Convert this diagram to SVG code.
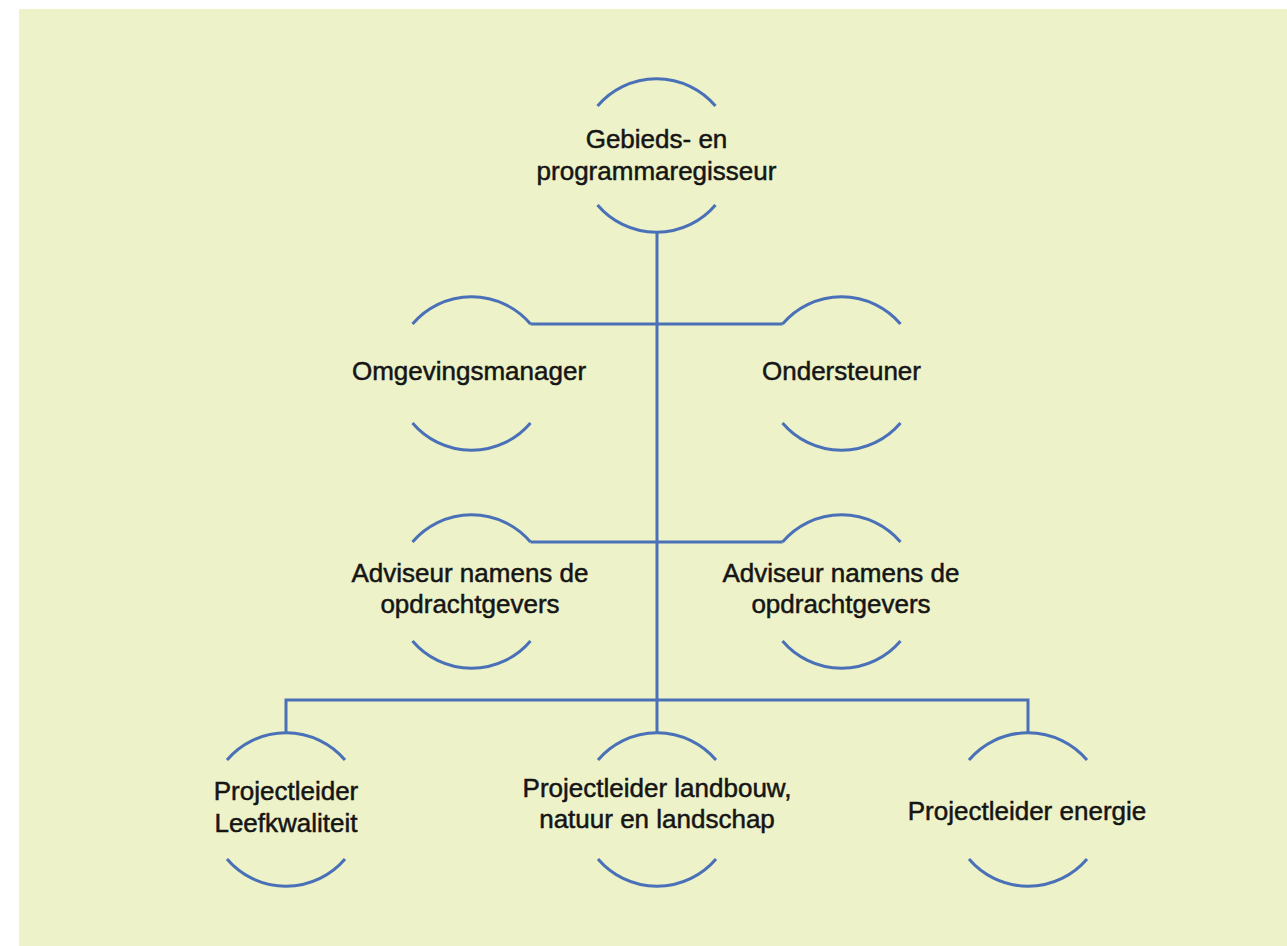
<svg xmlns="http://www.w3.org/2000/svg" width="1287" height="946" viewBox="0 0 1287 946">
<style>
.arc{fill:none;stroke:#4A70B8;stroke-width:3}
.con{fill:none;stroke:#4A70B8;stroke-width:3}
text{font-family:"Liberation Sans",Arial,sans-serif;font-size:26px;fill:#151515;stroke:#151515;stroke-width:0.5;text-anchor:middle}
</style>
<rect x="0" y="0" width="1287" height="946" fill="#ffffff"/>
<rect x="19" y="9" width="1268" height="937" fill="#EDF2C8"/>
<g id="connectors">
<path class="con" d="M657 232.5 V732.5"/>
<path class="con" d="M530.5 324 H782.5"/>
<path class="con" d="M530.5 542 H782.5"/>
<path class="con" d="M286 732.5 V700 H1028 V732.5"/>
</g>
<g id="node1">
<path class="arc" d="M597.5 106 A77.5 77.5 0 0 1 715.5 106"/>
<path class="arc" d="M597.5 205 A77.5 77.5 0 0 0 715.5 205"/>
<text x="656.5" y="148">Gebieds- en</text>
<text x="656.5" y="180">programmaregisseur</text>
</g>
<g id="node2">
<path class="arc" d="M412.5 324 A77.5 77.5 0 0 1 530.5 324"/>
<path class="arc" d="M412.5 423 A77.5 77.5 0 0 0 530.5 423"/>
<text x="469" y="380">Omgevingsmanager</text>
</g>
<g id="node3">
<path class="arc" d="M782.5 324 A77.5 77.5 0 0 1 900.5 324"/>
<path class="arc" d="M782.5 423 A77.5 77.5 0 0 0 900.5 423"/>
<text x="841.5" y="380">Ondersteuner</text>
</g>
<g id="node4">
<path class="arc" d="M412.5 542 A77.5 77.5 0 0 1 530.5 542"/>
<path class="arc" d="M412.5 641 A77.5 77.5 0 0 0 530.5 641"/>
<text x="470" y="582">Adviseur namens de</text>
<text x="470" y="613">opdrachtgevers</text>
</g>
<g id="node5">
<path class="arc" d="M782.5 542 A77.5 77.5 0 0 1 900.5 542"/>
<path class="arc" d="M782.5 641 A77.5 77.5 0 0 0 900.5 641"/>
<text x="841" y="582">Adviseur namens de</text>
<text x="841" y="613">opdrachtgevers</text>
</g>
<g id="node6">
<path class="arc" d="M227 760 A77.5 77.5 0 0 1 345 760"/>
<path class="arc" d="M227 859 A77.5 77.5 0 0 0 345 859"/>
<text x="286" y="800">Projectleider</text>
<text x="286" y="832">Leefkwaliteit</text>
</g>
<g id="node7">
<path class="arc" d="M598 760 A77.5 77.5 0 0 1 716 760"/>
<path class="arc" d="M598 859 A77.5 77.5 0 0 0 716 859"/>
<text x="657" y="797">Projectleider landbouw,</text>
<text x="657" y="828">natuur en landschap</text>
</g>
<g id="node8">
<path class="arc" d="M969 760 A77.5 77.5 0 0 1 1087 760"/>
<path class="arc" d="M969 859 A77.5 77.5 0 0 0 1087 859"/>
<text x="1027" y="820">Projectleider energie</text>
</g>
</svg>
